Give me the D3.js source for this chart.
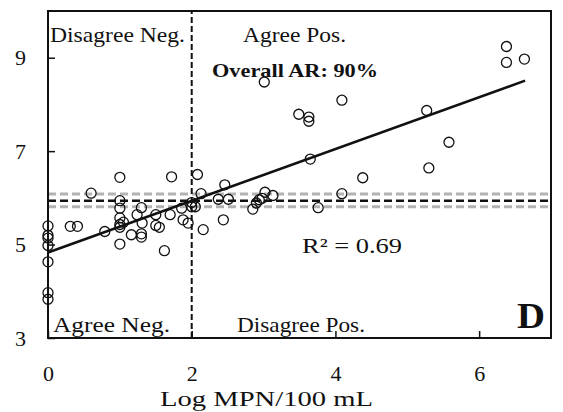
<!DOCTYPE html>
<html>
<head>
<meta charset="utf-8">
<script src="https://cdn.jsdelivr.net/npm/d3@7"></script>
<style>
  body { margin: 0; background: #fff; }
  svg text { font-family: "Liberation Serif", "Times New Roman", serif; fill: #111; }
</style>
</head>
<body>
<div id="chart"></div>
<script>
// Observations: log MPN/100 mL (x) vs. model value (y)
const xVals = [0, 0, 0, 0, 0, 0, 0, 0.31, 0.41, 0.60, 0.79,
    1.0, 1.0, 1.0, 1.0, 1.0, 1.0, 1.0, 1.05, 1.16, 1.24, 1.30, 1.31, 1.30, 1.30,
    1.50, 1.50, 1.55, 1.62, 1.70, 1.72, 1.86, 1.88, 1.95, 2.0, 2.05, 2.0,
    2.08, 2.13, 2.16, 2.37, 2.44, 2.46, 2.51, 2.85, 2.90, 2.94, 2.98, 3.02, 3.13,
    3.01, 3.49, 3.63, 3.63, 3.65, 3.76, 4.09, 4.09, 4.38, 5.27, 5.30, 5.58,
    6.38, 6.38, 6.63];
const yVals = [5.40, 5.20, 5.14, 4.98, 4.63, 3.97, 3.83, 5.39, 5.39, 6.10, 5.28,
    6.44, 5.94, 5.78, 5.57, 5.43, 5.37, 5.01, 5.48, 5.21, 5.64, 5.79, 5.46, 5.23, 5.16,
    5.64, 5.41, 5.37, 4.87, 5.64, 6.45, 5.78, 5.53, 5.46, 5.81, 5.81, 5.90,
    6.50, 6.09, 5.32, 5.97, 5.53, 6.28, 5.97, 5.76, 5.89, 5.96, 5.99, 6.12, 6.05,
    8.48, 7.79, 7.73, 7.64, 6.83, 5.79, 8.09, 6.09, 6.43, 7.87, 6.64, 7.19,
    9.24, 8.90, 8.97];

// Regression line and thresholds
const fitIntercept = 4.83;
const fitSlope = 0.554;
const fitRange = [0, 6.64];
const xThreshold = 2;
const yThreshold = 5.94;
const yBand = [5.81, 6.08];

const xTicks = [0, 2, 4, 6];
const yTicks = [3, 5, 7, 9];

const width = 563;
const height = 412;
const margin = { top: 11, right: 12, bottom: 74, left: 48 };

const svg = d3.select("#chart")
    .append("svg")
    .attr("width", width)
    .attr("height", height);

const xScale = d3.scaleLinear().domain([0, 7]).range([margin.left, width - margin.right]);
const yScale = d3.scaleLinear().domain([3, 10]).range([height - margin.bottom, margin.top]);

// Gray band lines and black threshold line
yBand.forEach(v => {
    svg.append("line")
        .attr("x1", xScale(0)).attr("x2", xScale(7))
        .attr("y1", yScale(v)).attr("y2", yScale(v))
        .attr("stroke", "#b3b3b3")
        .attr("stroke-width", 3)
        .attr("stroke-dasharray", "8,4");
});

svg.append("line")
    .attr("x1", xScale(0)).attr("x2", xScale(7))
    .attr("y1", yScale(yThreshold)).attr("y2", yScale(yThreshold))
    .attr("stroke", "#111")
    .attr("stroke-width", 2.5)
    .attr("stroke-dasharray", "8,4");

svg.append("line")
    .attr("x1", xScale(xThreshold)).attr("x2", xScale(xThreshold))
    .attr("y1", yScale(3)).attr("y2", yScale(10))
    .attr("stroke", "#111")
    .attr("stroke-width", 2)
    .attr("stroke-dasharray", "6,3");

// Fit line
svg.append("line")
    .attr("x1", xScale(fitRange[0]))
    .attr("y1", yScale(fitIntercept + fitSlope * fitRange[0]))
    .attr("x2", xScale(fitRange[1]))
    .attr("y2", yScale(fitIntercept + fitSlope * fitRange[1]))
    .attr("stroke", "#111")
    .attr("stroke-width", 2.5);

// Points
svg.selectAll("circle")
    .data(d3.range(xVals.length))
    .enter()
    .append("circle")
    .attr("cx", i => xScale(xVals[i]))
    .attr("cy", i => yScale(yVals[i]))
    .attr("r", 5)
    .attr("fill", "none")
    .attr("stroke", "#111")
    .attr("stroke-width", 1.3);

// Axes (ticks point inward)
const xAxis = svg.append("g")
    .attr("transform", `translate(0,${height - margin.bottom})`)
    .call(d3.axisBottom(xScale).tickValues(xTicks).tickSize(-7).tickPadding(27).tickFormat(d3.format("d")));

const yAxis = svg.append("g")
    .attr("transform", `translate(${margin.left},0)`)
    .call(d3.axisLeft(yScale).tickValues(yTicks).tickSize(-7).tickPadding(22).tickFormat(d3.format("d")));

[xAxis, yAxis].forEach(g => {
    g.select(".domain").remove();
    g.selectAll("line").attr("stroke", "#111").attr("stroke-width", 1.5);
    g.selectAll("text")
        .attr("font-size", 22)
        .attr("fill", "#111");
});

// Frame
svg.append("rect")
    .attr("x", margin.left)
    .attr("y", margin.top)
    .attr("width", width - margin.left - margin.right)
    .attr("height", height - margin.top - margin.bottom)
    .attr("fill", "none")
    .attr("stroke", "#111")
    .attr("stroke-width", 2);

// helper for the slightly stretched serif labels of the original
function label(x, y, txt, size, len, opts = {}) {
    const t = svg.append("text")
        .attr("x", x)
        .attr("y", y)
        .attr("font-size", size)
        .attr("textLength", len)
        .attr("lengthAdjust", "spacingAndGlyphs")
        .text(txt);
    if (opts.bold) t.attr("font-weight", "bold");
    return t;
}

// Axis title
label(160, 406, "Log MPN/100 mL", 22, 213);

// Quadrant labels and annotations
label(50, 42, "Disagree Neg.", 21, 135);
label(243, 42, "Agree Pos.", 21, 103);
label(212, 77, "Overall AR: 90%", 19, 166, { bold: true });
label(53, 332, "Agree Neg.", 21, 117);
label(237, 332, "Disagree Pos.", 21, 128);
label(302, 253, "R² = 0.69", 22, 100);
label(517, 328, "D", 36, 28, { bold: true });
</script>
</body>
</html>
